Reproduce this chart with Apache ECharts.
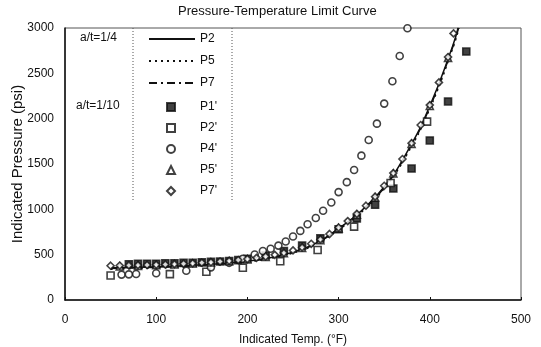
<!DOCTYPE html>
<html><head><meta charset="utf-8">
<script src="https://cdn.jsdelivr.net/npm/echarts@6/dist/echarts.min.js"></script>
<style>html,body{margin:0;padding:0;background:#fff}#c{width:541px;height:347px}</style>
</head><body><div id="c"></div>
<script>
// ---- data ----
const xTicks = [0, 100, 200, 300, 400, 500];
const yTicks = [0, 500, 1000, 1500, 2000, 2500, 3000];

const P2_T = [50, 75, 100, 125, 150, 175, 200, 225, 250, 275, 300, 325, 350, 375, 400, 425, 431];
const P2_P = [355, 360, 366, 375, 388, 405, 429, 467, 528, 627, 790, 985, 1250, 1630, 2140, 2800, 3000];

const P5_T = [50, 75, 100, 125, 150, 175, 200, 225, 250, 275, 300, 325, 350, 375, 400, 425, 432];
const P5_P = [340, 346, 353, 363, 377, 395, 420, 458, 518, 615, 775, 968, 1230, 1605, 2110, 2770, 3000];

const P7_T = [50, 75, 100, 125, 150, 175, 200, 225, 250, 275, 300, 325, 350, 375, 400, 425, 431.5];
const P7_P = [348, 354, 360, 369, 383, 400, 425, 463, 524, 622, 783, 977, 1240, 1618, 2125, 2785, 3000];

const P1s_T = [70, 80, 90, 100, 110, 120, 130, 140, 150, 160, 170, 180, 190, 200, 220, 240, 260, 280, 300, 320, 340, 360, 380, 400, 420, 440];
const P1s_P = [395, 400, 400, 400, 405, 405, 410, 410, 415, 420, 425, 430, 440, 455, 490, 540, 600, 680, 780, 900, 1050, 1230, 1450, 1760, 2190, 2740];

const P2s_T = [50, 115, 155, 195, 236, 277, 317, 357, 397];
const P2s_P = [270, 285, 312, 356, 428, 551, 809, 1290, 1967];

const P4s_T = [62, 70, 78, 100, 133, 160, 180, 195, 208, 217, 225.5, 234, 242, 250, 258, 266, 275, 283, 292, 300, 309, 317, 325, 333, 342, 350, 359, 367, 375.5];
const P4s_P = [280, 283, 286, 295, 323, 360, 410, 455, 502, 540, 565, 600, 645, 700, 762, 835, 905, 985, 1075, 1190, 1300, 1434, 1592, 1765, 1945, 2166, 2412, 2691, 2997];

const P5s_T = [60, 80, 100, 120, 140, 160, 180, 200, 220, 240, 260, 280, 300, 320, 340, 360, 380, 400, 420];
const P5s_P = [370, 376, 384, 392, 402, 414, 428, 448, 476, 515, 573, 660, 790, 940, 1130, 1395, 1720, 2140, 2670];

const P7s_T = [50, 60, 70, 80, 90, 100, 110, 120, 130, 140, 150, 160, 170, 180, 190, 200, 210, 220, 230, 240, 250, 260, 270, 280, 290, 300, 310, 320, 330, 340, 350, 360, 370, 380, 390, 400, 410, 420, 426];
const P7s_P = [378, 380, 382, 384, 386, 389, 392, 396, 400, 405, 411, 417, 424, 432, 441, 452, 465, 480, 498, 520, 547, 580, 620, 668, 728, 800, 870, 950, 1040, 1140, 1260, 1400, 1555, 1730, 1930, 2150, 2400, 2680, 2940];

function pairs(t, p) { return t.map((v, i) => [v, p[i]]); }

const chart = echarts.init(document.getElementById('c'));
const FONT = 'Liberation Sans, Arial, sans-serif';

function lineSeries(name, t, p, type) {
  return { name, type: 'line', data: pairs(t, p), smooth: true, symbol: 'none',
    itemStyle: { color: '#111' },
    lineStyle: { color: '#111', width: 1.5, type }, z: 3 };
}
function scatterSeries(name, t, p, symbol, filled, size) {
  return { name, type: 'scatter', data: pairs(t, p), symbol, symbolSize: size,
    itemStyle: { color: filled ? '#111' : '#fff', borderColor: '#111', borderWidth: 1.6 }, z: 4 };
}

chart.setOption({
  animation: false,
  backgroundColor: '#fff',
  textStyle: { fontFamily: FONT },
  title: { text: 'Pressure-Temperature Limit Curve', left: 173, top: 0,
    textStyle: { fontSize: 13, fontWeight: 'normal', color: '#111', fontFamily: FONT } },
  grid: { left: 65, right: 20, top: 28, bottom: 47, show: true, borderColor: '#555', borderWidth: 1,
    outerBoundsMode: 'none', containLabel: false },
  legend: [
    { data: ['P2', 'P5', 'P7'], orient: 'vertical', left: 143, top: 28, itemWidth: 46, itemHeight: 10,
      itemGap: 10, itemStyle: { opacity: 0 },
      textStyle: { fontSize: 12, color: '#111', fontFamily: FONT } },
    { data: ["P1'", "P2'", "P4'", "P5'", "P7'"], orient: 'vertical', left: 161, top: 96, itemWidth: 8, itemHeight: 8,
      itemGap: 9, textStyle: { fontSize: 12, color: '#111', fontFamily: FONT, padding: [0, 0, 0, 20] } }
  ],
  xAxis: { type: 'value', min: xTicks[0], max: xTicks[xTicks.length - 1], interval: 100,
    name: 'Indicated Temp. (°F)', nameLocation: 'middle', nameGap: 34,
    nameTextStyle: { fontSize: 12, color: '#111', fontFamily: FONT },
    axisLine: { lineStyle: { color: '#111', width: 1.5 } },
    axisTick: { inside: true, length: 3, lineStyle: { color: '#111' } },
    axisLabel: { fontSize: 12, color: '#111', margin: 14, fontFamily: FONT,
      formatter: v => xTicks.includes(v) ? String(v) : '' },
    splitLine: { show: false } },
  yAxis: { type: 'value', min: yTicks[0], max: yTicks[yTicks.length - 1], interval: 500,
    name: 'Indicated Pressure (psi)', nameLocation: 'middle', nameGap: 40, nameMoveOverlap: false,
    nameTextStyle: { fontSize: 15, color: '#111', fontFamily: FONT },
    axisLine: { show: true, lineStyle: { color: '#111', width: 1.5 } },
    axisTick: { show: false },
    axisLabel: { fontSize: 12, color: '#111', margin: 11, fontFamily: FONT,
      formatter: v => yTicks.includes(v) ? String(v) : '' },
    splitLine: { show: false } },
  graphic: [
    { type: 'line', shape: { x1: 133, y1: 28, x2: 133, y2: 202 }, style: { stroke: '#555', lineWidth: 1, lineDash: [1, 2] } },
    { type: 'line', shape: { x1: 232, y1: 28, x2: 232, y2: 202 }, style: { stroke: '#555', lineWidth: 1, lineDash: [1, 2] } },
    { type: 'text', left: 80, top: 32, style: { text: 'a/t=1/4', fontSize: 12, fill: '#111', fontFamily: FONT } },
    { type: 'text', left: 76, top: 100, style: { text: 'a/t=1/10', fontSize: 12, fill: '#111', fontFamily: FONT } }
  ],
  series: [
    lineSeries('P2', P2_T, P2_P, 'solid'),
    lineSeries('P5', P5_T, P5_P, [2, 4]),
    lineSeries('P7', P7_T, P7_P, [8, 4, 2, 4]),
    scatterSeries("P1'", P1s_T, P1s_P, 'rect', true, 7),
    scatterSeries("P2'", P2s_T, P2s_P, 'rect', false, 7),
    scatterSeries("P4'", P4s_T, P4s_P, 'circle', false, 7),
    scatterSeries("P5'", P5s_T, P5s_P, 'triangle', false, 7),
    scatterSeries("P7'", P7s_T, P7s_P, 'diamond', false, 7)
  ]
});
</script></body></html>
